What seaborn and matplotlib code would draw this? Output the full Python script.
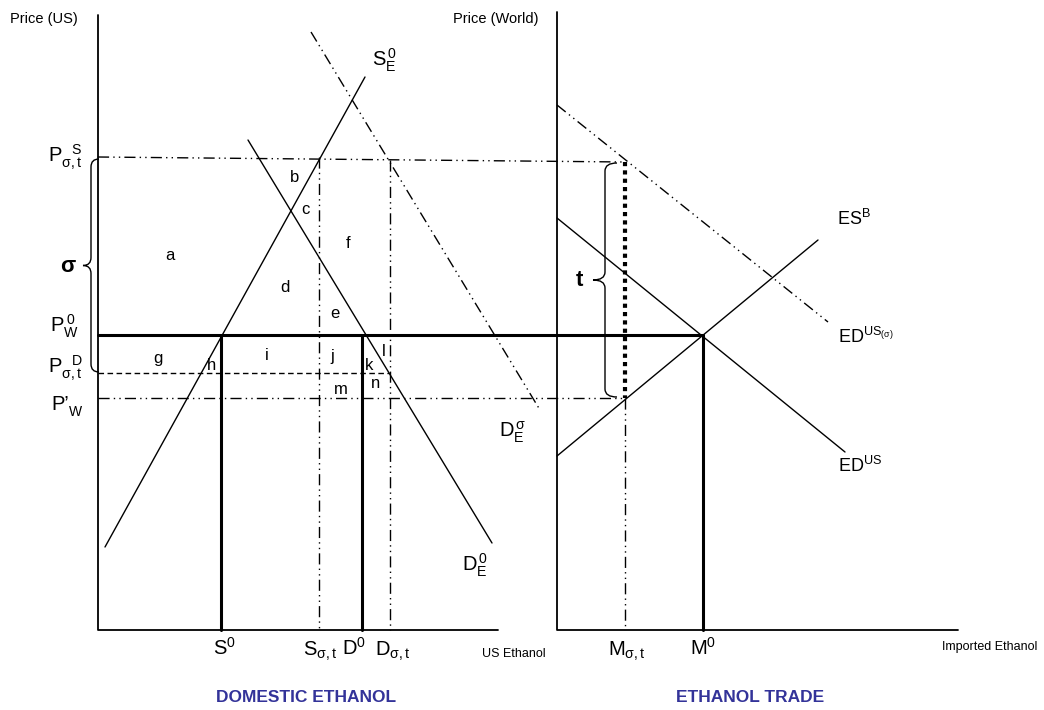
import pandas as pd
import seaborn as sns
import matplotlib.pyplot as plt
from matplotlib.path import Path
import matplotlib.patches as patches

sns.set_theme(style='white')
plt.rcParams['font.family'] = ['Liberation Sans', 'DejaVu Sans']
plt.rcParams['mathtext.fontset'] = 'custom'
plt.rcParams['mathtext.rm'] = 'Liberation Sans'
plt.rcParams['mathtext.it'] = 'Liberation Sans'
plt.rcParams['text.color'] = 'black'

### diagram in pixel coordinates (x right, y down)
# axes
axis_x = [[98, 98, 498], [557, 557, 958]]
axis_y = [[15, 630, 630], [12, 630, 630]]

# solid curves: S_E^0, D_E^0, ES^B, ED^US
solid_names = ['SE0', 'DE0', 'ESB', 'EDUS']
solid_x0 = [105, 248, 557, 557]
solid_y0 = [547, 140, 456, 218]
solid_x1 = [365, 492, 818, 845]
solid_y1 = [77, 543, 240, 452]

# dash-dot curves: D_E^sigma, ED^US(sigma)
dd_names = ['DEs', 'EDUSs']
dd_x0 = [311, 557]
dd_y0 = [32, 105]
dd_x1 = [540, 828]
dd_y1 = [410, 322]

# price levels
pw0_y = 335
pw0_x = [98, 703]
pS_y = [157, 162]
pS_x = [98, 625]
pD_y = 373
pD_x = [98, 390]
pW1_y = 398
pW1_x = [98, 625]

# quantity levels
thick_q = [221, 362, 703]
thin_q = [319, 390]
thin_q_top = [157, 160]
m_sig = 625

# area letters
letters = ['a', 'b', 'c', 'd', 'e', 'f', 'g', 'h', 'i', 'j', 'k', 'l', 'm', 'n']
letter_x = [170, 295, 305, 285, 335, 348, 158, 212, 267, 332, 369, 384, 341, 376]
letter_y = [256, 178, 210, 288, 313, 243, 358, 366, 356, 356, 365, 351, 389, 384]

fig = plt.figure(figsize=(10.44, 7.10), dpi=100)
ax = fig.add_axes([0, 0, 1, 1])
ax.set_xlim(0, 1044)
ax.set_ylim(710, 0)
ax.axis('off')

for xs, ys in zip(axis_x, axis_y):
    ax.plot(xs, ys, color='black', lw=1.3)

solid = pd.DataFrame({
    'x': solid_x0 + solid_x1,
    'y': solid_y0 + solid_y1,
    'curve': solid_names + solid_names,
})
sns.lineplot(data=solid, x='x', y='y', units='curve', estimator=None,
             color='black', lw=1.0, sort=False, ax=ax)

dd = pd.DataFrame({
    'x': dd_x0 + dd_x1,
    'y': dd_y0 + dd_y1,
    'curve': dd_names + dd_names,
})
sns.lineplot(data=dd, x='x', y='y', units='curve', estimator=None,
             color='black', lw=1.0, sort=False, ax=ax,
             dashes=False, linestyle=(0, (8, 3, 1, 3, 1, 3)))
ax.set_xlabel('')
ax.set_ylabel('')

ddash = (0, (8, 3, 1, 3, 1, 3))
ax.plot(pw0_x, [pw0_y, pw0_y], color='black', lw=2.2)
ax.plot(pS_x, pS_y, color='black', lw=1.0, linestyle=ddash)
ax.plot(pD_x, [pD_y, pD_y], color='black', lw=1.0, linestyle=(0, (4, 2.5)))
ax.plot(pW1_x, [pW1_y, pW1_y], color='black', lw=1.0, linestyle=ddash)

for q in thick_q:
    ax.plot([q, q], [pw0_y, 630], color='black', lw=2.2)
for q, top in zip(thin_q, thin_q_top):
    ax.plot([q, q], [top, 630], color='black', lw=1.0, linestyle=ddash)
ax.plot([m_sig, m_sig], [pS_y[1], pW1_y], color='black', lw=3.0, linestyle=(0, (1, 1)))
ax.plot([m_sig, m_sig], [pW1_y, 630], color='black', lw=1.0, linestyle=ddash)


def brace(x, y0, y1, w):
    # left-pointing curly brace
    ym = (y0 + y1) / 2
    verts = [(x + w, y0), (x, y0), (x, y0 + 8), (x, ym - 8),
             (x, ym), (x - w, ym),
             (x, ym), (x, ym + 8), (x, y1 - 8),
             (x, y1), (x + w, y1)]
    codes = [Path.MOVETO, Path.CURVE3, Path.CURVE3, Path.LINETO,
             Path.CURVE3, Path.CURVE3,
             Path.CURVE3, Path.CURVE3, Path.LINETO,
             Path.CURVE3, Path.CURVE3]
    ax.add_patch(patches.PathPatch(Path(verts, codes), fill=False, lw=1.0, color='black'))


brace(91, 159, 372, 8)
brace(605, 163, 397, 12)

for t, x, y in zip(letters, letter_x, letter_y):
    ax.text(x, y, t, fontsize=12, ha='center', va='center')

fs = 14.5
ax.text(372, 60, r'$\mathregular{S_E^{\,0}}$', fontsize=fs, ha='left', va='center')
ax.text(462, 565, r'$\mathregular{D_E^{\,0}}$', fontsize=fs, ha='left', va='center')
ax.text(499, 432, r'$\mathregular{D_E^{\,σ}}$', fontsize=fs, ha='left', va='center')
ax.text(837, 219, r'$\mathregular{ES^{B}}$', fontsize=13, ha='left', va='center')
ax.text(838, 337, r'$\mathregular{ED^{US_{(σ)}}}$', fontsize=13, ha='left', va='center')
ax.text(838, 466, r'$\mathregular{ED^{US}}$', fontsize=13, ha='left', va='center')

ax.text(48, 157, r'$\mathregular{P_{σ,t}^{\;\;\;S}}$', fontsize=fs, ha='left', va='center')
ax.text(50, 326, r'$\mathregular{P_W^{\;0}}$', fontsize=fs, ha='left', va='center')
ax.text(48, 368, r'$\mathregular{P_{σ,t}^{\;\;\;D}}$', fontsize=fs, ha='left', va='center')
ax.text(51, 405, 'P’', fontsize=fs, ha='left', va='center')
ax.text(69, 412, 'W', fontsize=10, ha='left', va='center')
ax.text(68, 266, 'σ', fontsize=16, fontweight='bold', ha='center', va='center')
ax.text(579, 280, 't', fontsize=16, fontweight='bold', ha='center', va='center')

ax.text(224, 648, r'$\mathregular{S^0}$', fontsize=fs, ha='center', va='center')
ax.text(320, 651, r'$\mathregular{S_{σ,t}}$', fontsize=fs, ha='center', va='center')
ax.text(354, 648, r'$\mathregular{D^0}$', fontsize=fs, ha='center', va='center')
ax.text(393, 651, r'$\mathregular{D_{σ,t}}$', fontsize=fs, ha='center', va='center')
ax.text(627, 651, r'$\mathregular{M_{σ,t}}$', fontsize=fs, ha='center', va='center')
ax.text(703, 648, r'$\mathregular{M^0}$', fontsize=fs, ha='center', va='center')

ax.text(10, 19, 'Price (US)', fontsize=10.5, ha='left', va='center')
ax.text(453, 19, 'Price (World)', fontsize=10.5, ha='left', va='center')
ax.text(482, 654, 'US Ethanol', fontsize=9, ha='left', va='center')
ax.text(942, 647, 'Imported Ethanol', fontsize=9, ha='left', va='center')
ax.text(306, 697, 'DOMESTIC ETHANOL', fontsize=12.5, fontweight='bold', color='#333399',
        ha='center', va='center')
ax.text(750, 697, 'ETHANOL TRADE', fontsize=12.5, fontweight='bold', color='#333399',
        ha='center', va='center')

fig.savefig('out.png', dpi=100)
